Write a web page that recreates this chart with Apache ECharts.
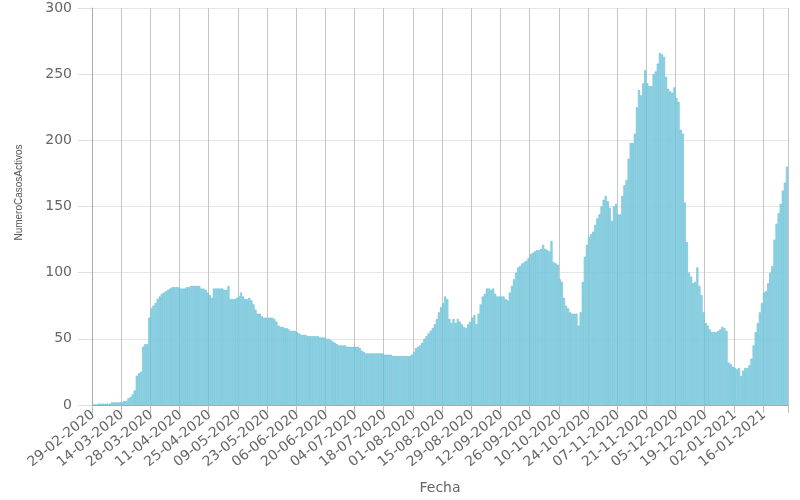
<!DOCTYPE html>
<html>
<head>
<meta charset="utf-8">
<script src="https://cdn.jsdelivr.net/npm/echarts@6/dist/echarts.min.js"></script>
<style>
html,body{margin:0;padding:0;background:#fff;}
#chart{width:800px;height:500px;}
</style>
</head>
<body>
<div id="chart"></div>
<script>
// First day of the series and number of days (daily categories)
const startDate = '2020-02-29';
const dayCount = 334;
const labelEvery = 14;

// Active cases per day
const activeCases = [
  0,0,0,1,1,1,1,1,1,2,
  2,2,2,2,2,3,3,5,6,8,
  11,22,24,25,44,46,46,66,73,75,
  77,80,82,84,85,86,87,88,89,89,
  89,89,88,88,88,89,89,90,90,90,
  90,90,88,88,87,85,83,81,88,88,
  88,88,88,87,87,90,80,80,80,81,
  82,85,82,80,80,81,79,76,72,69,
  69,67,66,66,66,66,66,65,63,60,
  59,59,58,58,57,56,56,56,55,54,
  53,53,53,52,52,52,52,52,52,51,
  51,51,50,50,49,48,47,46,45,45,
  45,45,44,44,44,44,44,44,43,41,
  40,39,39,39,39,39,39,39,39,39,
  38,38,38,38,37,37,37,37,37,37,
  37,37,37,38,40,43,44,45,47,50,
  52,54,56,58,61,65,70,74,77,82,
  80,65,62,65,62,65,63,61,59,58,
  61,63,66,68,61,69,76,82,84,88,
  88,87,88,84,82,82,82,82,80,79,
  85,90,95,100,104,105,107,108,109,111,
  114,115,116,117,117,118,121,118,117,116,
  124,108,107,106,95,93,81,75,73,70,
  69,69,69,60,70,93,112,121,127,129,
  131,136,141,144,150,155,158,154,149,139,
  150,152,144,144,158,166,170,186,198,198,
  205,225,238,234,243,253,243,241,241,250,
  252,258,266,265,263,248,239,237,236,240,
  232,229,208,205,153,123,100,97,92,93,
  104,90,83,70,62,60,57,55,55,55,
  56,57,59,58,56,32,31,29,28,27,
  28,22,26,28,28,30,35,45,55,62,
  70,77,85,86,92,100,105,125,137,145,
  152,162,168,180
];

// Y axis ticks
const yTicks = [0, 50, 100, 150, 200, 250, 300];
const xAxisName = 'Fecha';
const yAxisName = 'NumeroCasosActivos';

// Build the date categories (dd-mm-yyyy)
function pad(n){ return (n < 10 ? '0' : '') + n; }
const dates = [];
const base = new Date(startDate + 'T00:00:00Z');
for (let i = 0; i < dayCount; i++) {
  const d = new Date(base.getTime() + i * 86400000);
  dates.push(pad(d.getUTCDate()) + '-' + pad(d.getUTCMonth() + 1) + '-' + d.getUTCFullYear());
}

const chart = echarts.init(document.getElementById('chart'), null, {renderer: 'canvas'});
const font = 'DejaVu Sans';
chart.setOption({
  animation: false,
  backgroundColor: '#ffffff',
  grid: {left: 92, right: 12, top: 8, bottom: 94, containLabel: false},
  xAxis: {
    type: 'category',
    data: dates,
    boundaryGap: true,
    name: xAxisName,
    nameLocation: 'middle',
    nameGap: 76,
    nameTextStyle: {color: '#666', fontSize: 14, fontFamily: font},
    axisLine: {show: true, lineStyle: {color: '#aaa'}},
    axisTick: {show: true, interval: labelEvery - 1, length: 8, lineStyle: {color: '#bdbdbd'}},
    axisLabel: {interval: labelEvery - 1, rotate: 39, color: '#666', fontSize: 14, fontFamily: font, margin: 8},
    splitLine: {show: true, interval: labelEvery - 1, lineStyle: {color: '#c6c6c6', width: 1}}
  },
  yAxis: {
    type: 'value',
    min: yTicks[0],
    max: yTicks[yTicks.length - 1],
    interval: yTicks[1] - yTicks[0],
    name: yAxisName,
    nameLocation: 'middle',
    nameGap: 68,
    nameTextStyle: {color: '#555', fontSize: 10, fontFamily: 'Liberation Sans', padding: [0, 0, 0, 28]},
    axisLine: {show: true, lineStyle: {color: '#aaa'}},
    axisTick: {show: true, length: 14, lineStyle: {color: '#ddd'}},
    axisLabel: {color: '#666', fontSize: 14, fontFamily: font, margin: 20},
    splitLine: {show: true, lineStyle: {color: '#e6e6e6'}}
  },
  series: [{
    type: 'bar',
    data: activeCases,
    barCategoryGap: '0%',
    itemStyle: {color: '#9ad7e8', borderColor: '#62bcd4', borderWidth: 0.6}
  }]
});
</script>
</body>
</html>
